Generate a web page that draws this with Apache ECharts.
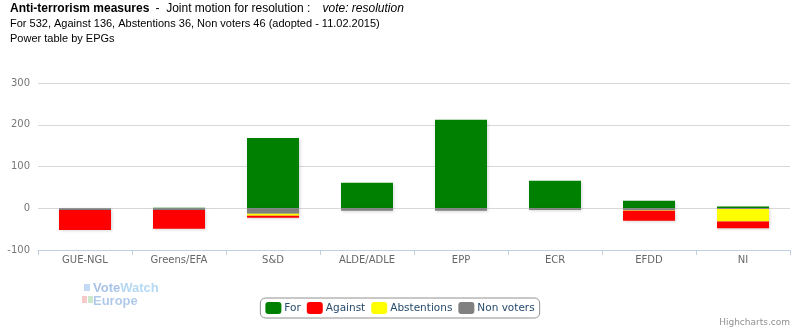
<!DOCTYPE html>
<html><head><meta charset="utf-8">
<script src="https://cdn.jsdelivr.net/npm/echarts@6/dist/echarts.min.js"></script>
<style>html,body{margin:0;padding:0;background:#fff}#c{width:800px;height:333px}</style>
</head><body><div id="c"></div>
<script>
var categories = ['GUE-NGL','Greens/EFA','S&D','ALDE/ADLE','EPP','ECR','EFDD','NI'];
var forVotes     = [0, 1, 168, 61, 212, 66, 18, 4];
var againstVotes = [-48, -45, -5, 0, 0, 0, -24, -16];
var abstentions  = [0, 0, -5, 0, 0, 0, -1, -30];
var nonVoters    = [-4, -4, -13, -6, -6, -4, -5, -2];
var yTicks = [-100, 0, 100, 200, 300];

var chart = echarts.init(document.getElementById('c'), null, {renderer:'canvas'});
var shadow = {shadowColor:'rgba(0,0,0,0.18)', shadowBlur:3, shadowOffsetX:1, shadowOffsetY:1};
function s(name, data, color){
  return {name:name, type:'bar', stack:'v', data:data, barWidth:52,
    itemStyle:Object.assign({color:color}, shadow), emphasis:{disabled:true}};
}
chart.setOption({
  animation:false,
  title:{left:10, top:1, padding:0,
    text:'{b|Anti-terrorism measures}  {r|-  Joint motion for resolution :}    {i|vote: resolution}\nFor 532, Against 136, Abstentions 36, Non voters 46 (adopted - 11.02.2015)\nPower table by EPGs',
    textStyle:{fontFamily:'Liberation Sans', fontSize:11, fontWeight:'normal', color:'#000', lineHeight:15,
      rich:{b:{fontFamily:'Liberation Sans', fontSize:12, fontWeight:'bold', color:'#000', lineHeight:15},
            r:{fontFamily:'Liberation Sans', fontSize:12, color:'#000', lineHeight:15},
            i:{fontFamily:'Liberation Sans', fontSize:12, fontStyle:'italic', color:'#000', lineHeight:15}}}},
  legend:{bottom:15, left:'center', data:['For','Against','Abstentions','Non voters'],
    icon:'roundRect', itemWidth:16, itemHeight:12, itemGap:6, itemStyle:{borderWidth:0},
    borderColor:'#909090', borderWidth:1, borderRadius:5, padding:[4,5,4,5],
    textStyle:{fontFamily:'DejaVu Sans', fontSize:10.5, color:'#274b6d', padding:[0,0,0,-2]}},
  grid:{left:38, right:10, top:83, bottom:83, containLabel:false},
  xAxis:{type:'category', data:categories,
    axisLine:{onZero:false, lineStyle:{color:'#C0D0E0', width:1}},
    axisTick:{show:true, length:5, lineStyle:{color:'#C0D0E0'}},
    axisLabel:{fontFamily:'DejaVu Sans', fontSize:10, color:'#666', margin:5}},
  yAxis:{type:'value', min:yTicks[0], max:yTicks[yTicks.length-1], interval:100,
    axisLine:{show:false}, axisTick:{show:false},
    splitLine:{lineStyle:{color:'#D8D8D8'}},
    axisLabel:{fontFamily:'DejaVu Sans', fontSize:10, color:'#777', margin:8}},
  graphic:[
    {type:'text', left:93, top:282, style:{text:'{a|Vote}{b|Watch}', font:'bold 13px Liberation Sans',
      rich:{a:{font:'bold 13px Liberation Sans', fill:'rgba(60,120,200,0.45)'}, b:{font:'bold 13px Liberation Sans', fill:'rgba(90,170,230,0.45)'}}}},
    {type:'text', left:93, top:295, style:{text:'Europe', font:'bold 13px Liberation Sans', fill:'rgba(60,120,200,0.4)'}},
    {type:'rect', shape:{x:84,y:284,width:6,height:7}, style:{fill:'rgba(80,150,220,0.35)'}},
    {type:'rect', shape:{x:82,y:296,width:5,height:7}, style:{fill:'rgba(230,80,80,0.3)'}},
    {type:'rect', shape:{x:88,y:296,width:5,height:7}, style:{fill:'rgba(80,180,80,0.3)'}},
    {type:'text', right:10, bottom:6, style:{text:'Highcharts.com', font:'9px DejaVu Sans', fill:'#909090'}}
  ],
  series:[
    s('For', forVotes, '#008000'),
    s('Non voters', nonVoters, '#808080'),
    s('Abstentions', abstentions, '#FFFF00'),
    s('Against', againstVotes, '#FF0000')
  ]
});
</script></body></html>
